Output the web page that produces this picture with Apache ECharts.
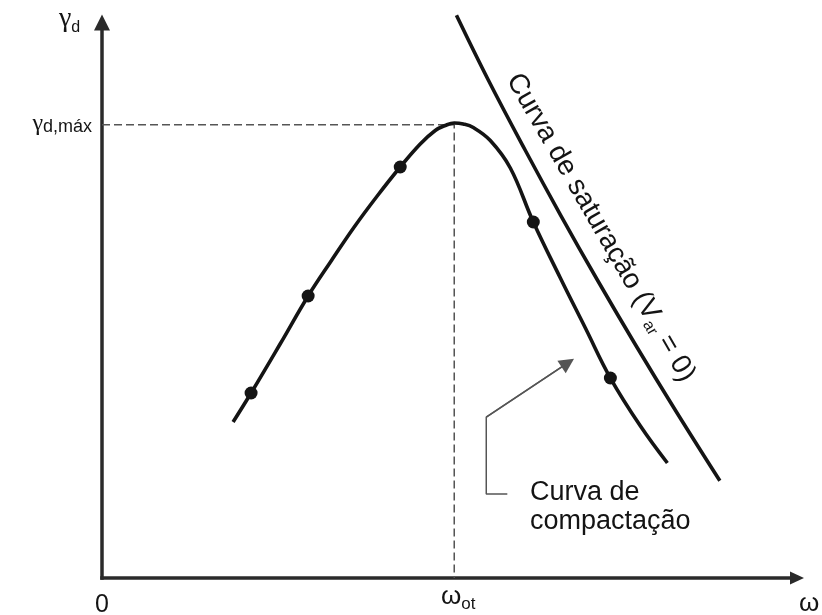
<!DOCTYPE html>
<html><head><meta charset="utf-8">
<script src="https://cdn.jsdelivr.net/npm/echarts@6/dist/echarts.min.js"></script>
<style>html,body{margin:0;padding:0;background:#fff}#c{width:822px;height:615px}</style>
</head><body><div id="c"></div>
<script>
// Compaction curve trace (water content ω, dry unit weight γd) in arbitrary units 0-100
const compactionCurve = [
  [18.86,28.08],[21.45,33.30],[25.63,42.12],[29.66,50.77],[32.97,57.07],[36.29,63.19],
  [39.60,68.77],[42.91,73.99],[45.79,78.13],[47.95,80.56],[49.39,81.46],[50.68,81.91],
  [51.98,81.73],[53.42,81.10],[55.87,78.76],[58.75,73.81],[62.06,64.09],[65.95,54.01],
  [69.55,45.00],[73.15,36.00],[77.47,27.36],[81.35,20.70]
];
// Measured compaction test points
const compactionPoints = [[21.45,33.30],[29.66,50.77],[42.91,73.99],[62.06,64.09],[73.15,36.00]];
// Saturation curve (Var = 0)
const saturationCurve = [
  [51.0,101.3],[55.6,89.6],[60.9,77.0],[66.0,65.3],[71.3,53.6],[76.8,41.9],[82.5,30.2],[88.9,17.5]
];
// Optimum: ω_ot, γd,máx
const optimum = [50.68, 81.60];
// Annotation pointer path towards the compaction curve
const annotationPath = [[58.32,15.12],[55.29,15.12],[55.29,28.98],[67.02,38.74]];
// Text labels
const yAxisName = ['γ','d'];
const yMaxLabel = ['γ','d,máx'];
const xOriginLabel = '0';
const xOptLabel = ['ω','ot'];
const xAxisName = 'ω';
const compactionLabel = 'Curva de\ncompactação';
const saturationLabel = ['Curva de saturação (V','ar',' = 0)'];

const FF = "'Liberation Sans', Arial, Helvetica, sans-serif";
const GF = "'Liberation Serif', 'DejaVu Serif', serif";
const INK = '#141414';
const chart = echarts.init(document.getElementById('c'));

const axisCommon = {
  type: 'value', min: 0, max: 100,
  axisTick: {show: false}, axisLabel: {show: false}, splitLine: {show: false}
};

chart.setOption({
  animation: false,
  backgroundColor: '#fff',
  grid: {left: 102, right: 25, top: 22.5, bottom: 37, outerBoundsMode: 'none', containLabel: false},
  xAxis: Object.assign({}, axisCommon, {
    axisLine: {show: true, onZero: false, symbol: ['none','triangle'], symbolSize: [13,14],
      lineStyle: {color: '#2a2a2a', width: 3.5, cap: 'square'}}
  }),
  yAxis: Object.assign({}, axisCommon, {
    axisLine: {show: true, onZero: false, symbol: ['none','triangle'], symbolSize: [16,16],
      lineStyle: {color: '#2a2a2a', width: 3.5, cap: 'square'}}
  }),
  series: [
    {
      type: 'line', name: 'optimum', data: [[0, optimum[1]], optimum, [optimum[0], 0]],
      symbol: 'none', silent: true, z: 1,
      lineStyle: {color: '#555', width: 1.5, type: [8,4]}
    },
    {
      type: 'line', name: 'Curva de compactação', data: compactionCurve,
      smooth: 0.4, symbol: 'none', silent: true, clip: false, z: 3,
      lineStyle: {color: INK, width: 3.6, join: 'round'}
    },
    {
      type: 'scatter', name: 'pontos', data: compactionPoints,
      symbol: 'circle', symbolSize: 13, silent: true, z: 4,
      itemStyle: {color: INK, opacity: 1}
    },
    {
      type: 'line', name: 'Curva de saturação', data: saturationCurve,
      smooth: 0.4, symbol: 'none', silent: true, clip: false, z: 3,
      lineStyle: {color: INK, width: 3.6}
    },
    {
      type: 'line', name: 'seta', data: annotationPath,
      symbol: 'none', silent: true, z: 2,
      lineStyle: {color: '#555', width: 1.5}
    },
    {
      type: 'lines', coordinateSystem: 'cartesian2d', silent: true, z: 2,
      data: [{coords: [annotationPath[2], annotationPath[3]]}],
      symbol: ['none','triangle'], symbolSize: 15,
      lineStyle: {color: '#555', width: 1.5, opacity: 1}
    }
  ],
  graphic: [
    {type: 'text', x: 59, y: 5, style: {
      text: '{g|' + yAxisName[0] + '}{s|' + yAxisName[1] + '}', align: 'left', verticalAlign: 'top', fill: INK,
      rich: {g: {fontSize: 28, fontFamily: GF, fill: INK, verticalAlign: 'top'},
             s: {fontSize: 16, fontFamily: FF, fill: INK, verticalAlign: 'top', padding: [14.5,0,0,0]}}}},
    {type: 'text', x: 92, y: 112, style: {
      text: '{g|' + yMaxLabel[0] + '}{s|' + yMaxLabel[1] + '}', align: 'right', verticalAlign: 'top', fill: INK,
      rich: {g: {fontSize: 24, fontFamily: GF, fill: INK, verticalAlign: 'top'},
             s: {fontSize: 18, fontFamily: FF, fill: INK, verticalAlign: 'top', padding: [6,0,0,0]}}}},
    {type: 'text', x: 102, y: 592.8, style: {
      text: xOriginLabel, fontSize: 25, fontFamily: FF, fill: INK, align: 'center', verticalAlign: 'top'}},
    {type: 'text', x: 441, y: 583.9, style: {
      text: '{w|' + xOptLabel[0] + '}{s|' + xOptLabel[1] + '}', align: 'left', verticalAlign: 'top', fill: INK,
      rich: {w: {fontSize: 26, fontFamily: FF, fill: INK, verticalAlign: 'top'},
             s: {fontSize: 17, fontFamily: FF, fill: INK, verticalAlign: 'top', padding: [11.6,0,0,0]}}}},
    {type: 'text', x: 799, y: 590.6, style: {
      text: xAxisName, fontSize: 26, fontFamily: FF, fill: INK, align: 'left', verticalAlign: 'top'}},
    {type: 'text', x: 530, y: 478.4, style: {
      text: compactionLabel, fontSize: 27, lineHeight: 28.5, fontFamily: FF, fill: INK, align: 'left', verticalAlign: 'top'}},
    {type: 'text', x: 600, y: 228, rotation: -60 * Math.PI / 180, style: {
      text: '{m|' + saturationLabel[0] + '}{s|' + saturationLabel[1] + '}{m|' + saturationLabel[2] + '}',
      align: 'center', verticalAlign: 'middle', fill: INK,
      rich: {m: {fontSize: 28, fontFamily: FF, fill: INK, verticalAlign: 'top'},
             s: {fontSize: 16, fontFamily: FF, fill: INK, verticalAlign: 'top', padding: [13.5,0,0,0]}}}}
  ]
});
</script>
</body></html>
